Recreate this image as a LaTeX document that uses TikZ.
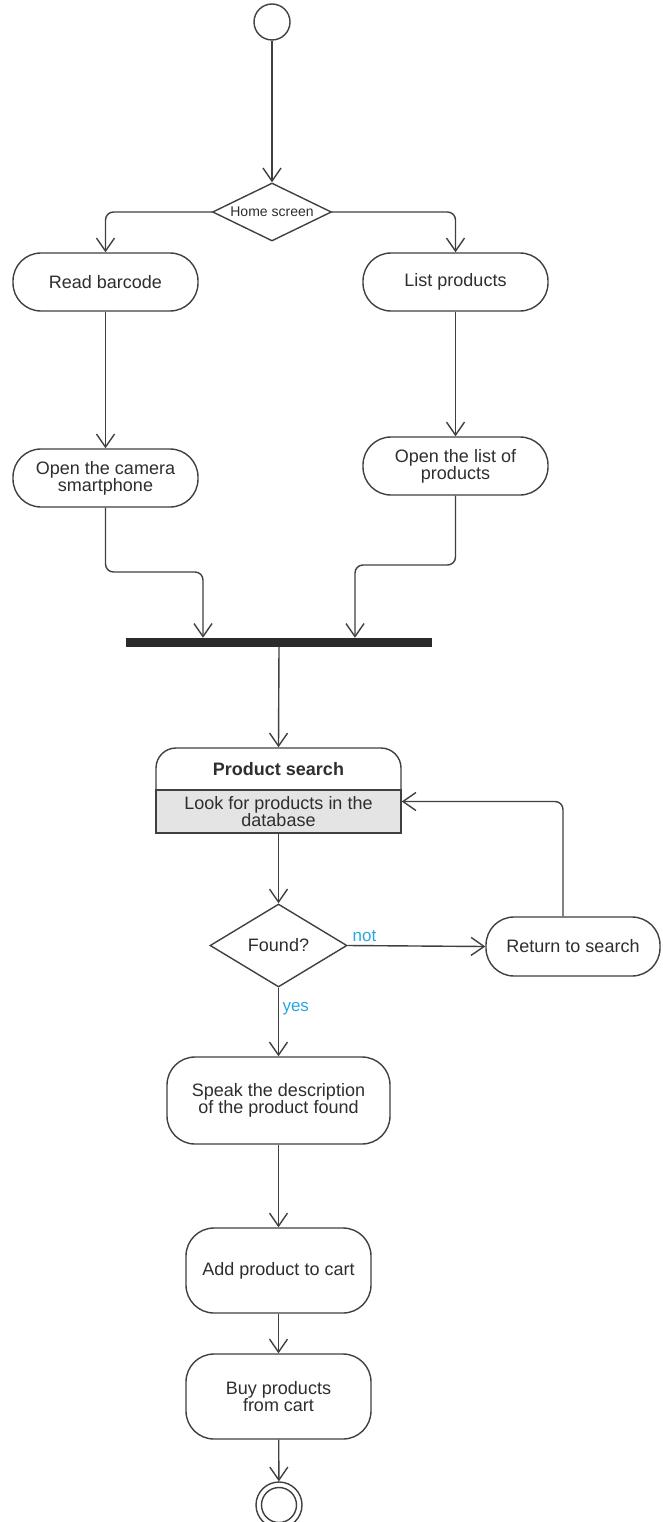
\documentclass[tikz,border=0pt]{standalone}
\usepackage{fontspec}
\setmainfont{Liberation Sans}
\usetikzlibrary{arrows.meta,positioning,shapes.geometric}

\definecolor{linegray}{HTML}{404040}
\definecolor{textgray}{HTML}{2E2E2E}
\definecolor{dbgray}{HTML}{E4E4E4}
\definecolor{guardblue}{HTML}{2AA6DE}
\definecolor{barblack}{HTML}{2B2B2B}

\begin{document}
\begin{tikzpicture}[
  x=1pt, y=-1pt,
  act/.style={
    rectangle, rounded corners=28pt, draw=linegray, line width=1.4pt, fill=white,
    minimum width=185pt, minimum height=58pt,
    align=center, text=textgray, font=\fontsize{18}{17}\selectfont
  },
  decision/.style={diamond, draw=linegray, line width=1.4pt, fill=white, inner sep=0pt,
    text=textgray, font=\fontsize{18}{17}\selectfont},
  arrow/.style={-{Straight Barb[length=13pt,width=18pt]}, line width=1.4pt, draw=linegray,
    rounded corners=8pt},
  lbl/.style={font=\fontsize{17}{17}\selectfont, text=guardblue},
  pin/.style={circle, draw=linegray, line width=1.4pt, inner sep=0pt}
]
\useasboundingbox (0,0) rectangle (662,1522);

% Start and first choice
\node[pin, minimum size=36pt] (start) at (272,22) {};
\node[decision, minimum width=119pt, minimum height=58pt, shape aspect=2.05,
  font=\fontsize{14}{14}\selectfont] (home) at (272,212) {Home screen};

% Two branches
\node[act] (read) at (105.5,282) {Read barcode};
\node[act] (listp) at (455.5,282) {List products};
\node[act] (camera) at (105.5,478) {Open the camera\\smartphone};
\node[act] (openlist) at (455.5,466) {Open the list of\\products};

% Join bar
\node[fill=barblack, minimum width=306pt, minimum height=9pt, inner sep=0pt] (join) at (279,642.5) {};
\coordinate (leftbend) at (203,572);
\coordinate (rightbend) at (355,565);

% Product search activity
\node[act, rounded corners=20pt, minimum width=245pt, minimum height=85pt] (search) at (278.5,790.5) {};
\node[rectangle, draw=linegray, line width=1.4pt, fill=dbgray, minimum width=245pt, minimum height=43pt,
  inner sep=0pt, align=center, text=textgray, font=\fontsize{18}{17}\selectfont] (lookup) at (278.5,811.5)
  {Look for products in the\\database};
\node[text=textgray, font=\fontsize{18}{17}\selectfont\bfseries] (searchtitle) at (278.5,769) {Product search};

% Found?
\node[decision, minimum width=137pt, minimum height=83pt, shape aspect=1.65] (found) at (278.5,945.5) {Found?};
\node[act, minimum width=174pt, minimum height=59pt] (ret) at (573,946.5) {Return to search};

% Last steps
\node[act, minimum width=223pt, minimum height=87pt] (speak) at (278.5,1100.5) {Speak the description\\of the product found};
\node[act, minimum height=85pt] (addcart) at (278.5,1270.5) {Add product to cart};
\node[act, minimum height=85pt] (buy) at (278.5,1396.5) {Buy products\\from cart};
\node[pin, minimum size=46pt] (stop) at (279,1505) {};
\draw[line width=1.4pt, draw=linegray] (stop.center) circle[radius=17.5pt];

% Arrows
\draw[arrow] (start) -- (home);
\draw[arrow] (home.west) -| (read.north);
\draw[arrow] (home.east) -| (listp.north);
\draw[arrow] (read) -- (camera);
\draw[arrow] (listp) -- (openlist);
\draw[arrow] (camera.south) |- (leftbend) -- (leftbend |- join.north);
\draw[arrow] (openlist.south) |- (rightbend) -- (rightbend |- join.north);
\draw[arrow] (join.south) -- (search.north);
\draw[arrow] (lookup.south) -- (found.north);
\draw[arrow] (found.east) -- node[lbl, pos=0, anchor=south west, xshift=1pt] {not} (ret.west);
\draw[arrow] ([xshift=-10pt]ret.north) |- ([yshift=10pt]lookup.east);
\draw[arrow] (found.south) -- node[lbl, pos=0.3, right] {yes} (speak.north);
\draw[arrow] (speak) -- (addcart);
\draw[arrow] (addcart) -- (buy);
\draw[arrow] (buy) -- (stop);

\end{tikzpicture}
\end{document}
